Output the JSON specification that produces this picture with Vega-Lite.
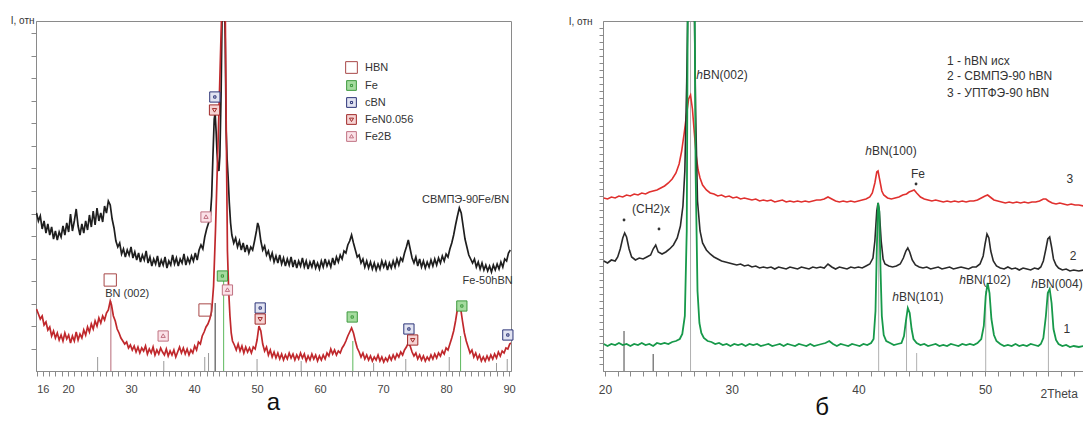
{
"$schema": "https://vega.github.io/schema/vega-lite/v6.json",
"padding": {"left": 9, "top": 14, "right": 0, "bottom": 0},
"bounds": "flush",
"spacing": 92,
"resolve": {"scale": {"color": "independent", "x": "independent", "y": "independent"}},
"config": {
 "font": "Liberation Sans",
 "view": {"stroke": "#8a8a8a", "strokeWidth": 1},
 "axis": {"domainColor": "#8a8a8a", "tickColor": "#8a8a8a", "labelColor": "#444", "labelFontSize": 11, "grid": false, "titleFontWeight": "normal", "titleColor": "#333", "titleFontSize": 10, "labelFlush": false, "labelOverlap": false},
 "text": {"fontSize": 11, "color": "#333"}
},
"datasets": {
"blackA": [{"x":15.0,"y":158},{"x":15.3,"y":150},{"x":15.6,"y":155},{"x":15.9,"y":142},{"x":16.2,"y":150},{"x":16.5,"y":138},{"x":16.8,"y":147},{"x":17.1,"y":136},{"x":17.4,"y":144},{"x":17.7,"y":132},{"x":18.0,"y":140},{"x":18.3,"y":131},{"x":18.6,"y":139},{"x":18.9,"y":134},{"x":19.2,"y":145},{"x":19.5,"y":136},{"x":19.8,"y":148},{"x":20.1,"y":139},{"x":20.4,"y":157},{"x":20.7,"y":140},{"x":21.0,"y":150},{"x":21.3,"y":162},{"x":21.6,"y":145},{"x":21.9,"y":136},{"x":22.2,"y":147},{"x":22.5,"y":138},{"x":22.8,"y":150},{"x":23.1,"y":141},{"x":23.4,"y":156},{"x":23.7,"y":144},{"x":24.0,"y":160},{"x":24.3,"y":146},{"x":24.6,"y":163},{"x":24.9,"y":150},{"x":25.2,"y":158},{"x":25.5,"y":149},{"x":25.8,"y":165},{"x":26.1,"y":158},{"x":26.4,"y":170},{"x":26.7,"y":166},{"x":27.0,"y":152},{"x":27.3,"y":143},{"x":27.6,"y":130},{"x":27.9,"y":124},{"x":28.2,"y":128},{"x":28.5,"y":117},{"x":28.8,"y":122},{"x":29.1,"y":114},{"x":29.4,"y":121},{"x":29.7,"y":116},{"x":30.0,"y":124},{"x":30.3,"y":113},{"x":30.6,"y":119},{"x":30.9,"y":111},{"x":31.2,"y":118},{"x":31.5,"y":109},{"x":31.8,"y":116},{"x":32.1,"y":111},{"x":32.4,"y":120},{"x":32.7,"y":108},{"x":33.0,"y":114},{"x":33.3,"y":105},{"x":33.6,"y":112},{"x":33.9,"y":107},{"x":34.2,"y":115},{"x":34.5,"y":104},{"x":34.8,"y":111},{"x":35.1,"y":106},{"x":35.4,"y":114},{"x":35.7,"y":103},{"x":36.0,"y":110},{"x":36.3,"y":106},{"x":36.6,"y":116},{"x":36.9,"y":107},{"x":37.2,"y":113},{"x":37.5,"y":105},{"x":37.8,"y":112},{"x":38.1,"y":108},{"x":38.4,"y":117},{"x":38.7,"y":106},{"x":39.0,"y":113},{"x":39.3,"y":108},{"x":39.6,"y":115},{"x":39.9,"y":110},{"x":40.2,"y":118},{"x":40.5,"y":111},{"x":40.8,"y":121},{"x":41.1,"y":126},{"x":41.4,"y":122},{"x":41.7,"y":134},{"x":42.0,"y":142},{"x":42.3,"y":148},{"x":42.6,"y":156},{"x":42.8,"y":175},{"x":43.0,"y":215},{"x":43.2,"y":252},{"x":43.35,"y":258},{"x":43.5,"y":240},{"x":43.65,"y":218},{"x":43.8,"y":205},{"x":43.95,"y":200},{"x":44.1,"y":215},{"x":44.3,"y":280},{"x":44.5,"y":380},{"x":44.75,"y":400},{"x":44.95,"y":330},{"x":45.1,"y":240},{"x":45.25,"y":212},{"x":45.4,"y":195},{"x":45.6,"y":168},{"x":45.8,"y":148},{"x":46.0,"y":136},{"x":46.3,"y":128},{"x":46.6,"y":133},{"x":46.9,"y":124},{"x":47.2,"y":130},{"x":47.5,"y":121},{"x":47.8,"y":128},{"x":48.1,"y":119},{"x":48.4,"y":126},{"x":48.7,"y":118},{"x":49.0,"y":124},{"x":49.3,"y":121},{"x":49.6,"y":130},{"x":49.9,"y":140},{"x":50.1,"y":148},{"x":50.3,"y":144},{"x":50.6,"y":130},{"x":50.9,"y":121},{"x":51.2,"y":125},{"x":51.5,"y":116},{"x":51.8,"y":120},{"x":52.1,"y":112},{"x":52.4,"y":118},{"x":52.7,"y":109},{"x":53.0,"y":115},{"x":53.3,"y":108},{"x":53.6,"y":116},{"x":53.9,"y":107},{"x":54.2,"y":113},{"x":54.5,"y":105},{"x":54.8,"y":112},{"x":55.1,"y":106},{"x":55.4,"y":114},{"x":55.7,"y":104},{"x":56.0,"y":111},{"x":56.3,"y":103},{"x":56.6,"y":110},{"x":56.9,"y":105},{"x":57.2,"y":113},{"x":57.5,"y":104},{"x":57.8,"y":110},{"x":58.1,"y":102},{"x":58.4,"y":109},{"x":58.7,"y":104},{"x":59.0,"y":111},{"x":59.3,"y":103},{"x":59.6,"y":108},{"x":59.9,"y":102},{"x":60.2,"y":110},{"x":60.5,"y":104},{"x":60.8,"y":112},{"x":61.1,"y":105},{"x":61.4,"y":110},{"x":61.7,"y":104},{"x":62.0,"y":113},{"x":62.3,"y":106},{"x":62.6,"y":114},{"x":62.9,"y":109},{"x":63.2,"y":116},{"x":63.5,"y":112},{"x":63.8,"y":120},{"x":64.1,"y":118},{"x":64.4,"y":126},{"x":64.7,"y":130},{"x":65.0,"y":136},{"x":65.3,"y":128},{"x":65.6,"y":121},{"x":65.9,"y":114},{"x":66.2,"y":116},{"x":66.5,"y":108},{"x":66.8,"y":112},{"x":67.1,"y":104},{"x":67.4,"y":110},{"x":67.7,"y":103},{"x":68.0,"y":109},{"x":68.3,"y":102},{"x":68.6,"y":108},{"x":68.9,"y":101},{"x":69.2,"y":107},{"x":69.5,"y":102},{"x":69.8,"y":110},{"x":70.1,"y":104},{"x":70.4,"y":109},{"x":70.7,"y":101},{"x":71.0,"y":108},{"x":71.3,"y":103},{"x":71.6,"y":110},{"x":71.9,"y":104},{"x":72.2,"y":112},{"x":72.5,"y":106},{"x":72.8,"y":113},{"x":73.1,"y":110},{"x":73.4,"y":118},{"x":73.7,"y":124},{"x":74.0,"y":131},{"x":74.3,"y":122},{"x":74.6,"y":113},{"x":74.9,"y":108},{"x":75.2,"y":114},{"x":75.5,"y":105},{"x":75.8,"y":112},{"x":76.1,"y":104},{"x":76.4,"y":110},{"x":76.7,"y":103},{"x":77.0,"y":109},{"x":77.3,"y":104},{"x":77.6,"y":111},{"x":77.9,"y":105},{"x":78.2,"y":112},{"x":78.5,"y":106},{"x":78.8,"y":113},{"x":79.1,"y":108},{"x":79.4,"y":115},{"x":79.7,"y":110},{"x":80.0,"y":117},{"x":80.3,"y":114},{"x":80.6,"y":122},{"x":80.9,"y":128},{"x":81.2,"y":136},{"x":81.5,"y":146},{"x":81.8,"y":155},{"x":82.1,"y":163},{"x":82.4,"y":158},{"x":82.7,"y":145},{"x":83.0,"y":132},{"x":83.3,"y":124},{"x":83.6,"y":116},{"x":83.9,"y":112},{"x":84.2,"y":108},{"x":84.5,"y":112},{"x":84.8,"y":104},{"x":85.1,"y":109},{"x":85.4,"y":102},{"x":85.7,"y":108},{"x":86.0,"y":101},{"x":86.3,"y":106},{"x":86.6,"y":100},{"x":86.9,"y":105},{"x":87.2,"y":99},{"x":87.5,"y":106},{"x":87.8,"y":101},{"x":88.1,"y":107},{"x":88.4,"y":102},{"x":88.7,"y":109},{"x":89.0,"y":104},{"x":89.3,"y":112},{"x":89.6,"y":110},{"x":89.9,"y":118},{"x":90.2,"y":121}],
"redA": [{"x":15.0,"y":62},{"x":15.3,"y":57},{"x":15.6,"y":52},{"x":15.9,"y":55},{"x":16.2,"y":46},{"x":16.5,"y":49},{"x":16.8,"y":41},{"x":17.1,"y":44},{"x":17.4,"y":35},{"x":17.7,"y":40},{"x":18.0,"y":33},{"x":18.3,"y":38},{"x":18.6,"y":31},{"x":18.9,"y":36},{"x":19.2,"y":30},{"x":19.5,"y":38},{"x":19.8,"y":32},{"x":20.1,"y":36},{"x":20.4,"y":28},{"x":20.7,"y":35},{"x":21.0,"y":30},{"x":21.3,"y":39},{"x":21.6,"y":31},{"x":21.9,"y":37},{"x":22.2,"y":33},{"x":22.5,"y":41},{"x":22.8,"y":36},{"x":23.1,"y":44},{"x":23.4,"y":39},{"x":23.7,"y":47},{"x":24.0,"y":42},{"x":24.3,"y":50},{"x":24.6,"y":45},{"x":24.9,"y":53},{"x":25.2,"y":48},{"x":25.5,"y":55},{"x":25.8,"y":51},{"x":26.1,"y":58},{"x":26.4,"y":61},{"x":26.7,"y":70},{"x":26.9,"y":66},{"x":27.2,"y":55},{"x":27.5,"y":50},{"x":27.8,"y":42},{"x":28.1,"y":38},{"x":28.4,"y":33},{"x":28.7,"y":30},{"x":29.0,"y":27},{"x":29.3,"y":29},{"x":29.6,"y":23},{"x":29.9,"y":26},{"x":30.2,"y":21},{"x":30.5,"y":25},{"x":30.8,"y":19},{"x":31.1,"y":24},{"x":31.4,"y":18},{"x":31.7,"y":23},{"x":32.0,"y":20},{"x":32.3,"y":25},{"x":32.6,"y":17},{"x":32.9,"y":22},{"x":33.2,"y":18},{"x":33.5,"y":24},{"x":33.8,"y":16},{"x":34.1,"y":21},{"x":34.4,"y":17},{"x":34.7,"y":23},{"x":35.0,"y":19},{"x":35.3,"y":16},{"x":35.6,"y":22},{"x":35.9,"y":15},{"x":36.2,"y":20},{"x":36.5,"y":16},{"x":36.8,"y":21},{"x":37.1,"y":14},{"x":37.4,"y":19},{"x":37.7,"y":24},{"x":38.0,"y":18},{"x":38.3,"y":23},{"x":38.6,"y":17},{"x":38.9,"y":22},{"x":39.2,"y":16},{"x":39.5,"y":21},{"x":39.8,"y":18},{"x":40.1,"y":25},{"x":40.4,"y":21},{"x":40.7,"y":29},{"x":41.0,"y":27},{"x":41.3,"y":35},{"x":41.6,"y":39},{"x":41.9,"y":44},{"x":42.2,"y":47},{"x":42.5,"y":52},{"x":42.8,"y":60},{"x":43.1,"y":85},{"x":43.4,"y":140},{"x":43.7,"y":205},{"x":44.0,"y":270},{"x":44.3,"y":340},{"x":44.6,"y":400},{"x":44.9,"y":400},{"x":45.1,"y":250},{"x":45.3,"y":120},{"x":45.5,"y":80},{"x":45.7,"y":55},{"x":45.9,"y":38},{"x":46.1,"y":30},{"x":46.4,"y":26},{"x":46.7,"y":21},{"x":47.0,"y":27},{"x":47.3,"y":20},{"x":47.6,"y":25},{"x":47.9,"y":18},{"x":48.2,"y":24},{"x":48.5,"y":19},{"x":48.8,"y":23},{"x":49.1,"y":18},{"x":49.4,"y":24},{"x":49.7,"y":22},{"x":50.0,"y":31},{"x":50.3,"y":45},{"x":50.6,"y":40},{"x":50.9,"y":27},{"x":51.2,"y":20},{"x":51.5,"y":24},{"x":51.8,"y":16},{"x":52.1,"y":21},{"x":52.4,"y":14},{"x":52.7,"y":19},{"x":53.0,"y":13},{"x":53.3,"y":18},{"x":53.6,"y":12},{"x":53.9,"y":17},{"x":54.2,"y":11},{"x":54.5,"y":16},{"x":54.8,"y":12},{"x":55.1,"y":18},{"x":55.4,"y":13},{"x":55.7,"y":17},{"x":56.0,"y":11},{"x":56.3,"y":16},{"x":56.6,"y":12},{"x":56.9,"y":18},{"x":57.2,"y":13},{"x":57.5,"y":17},{"x":57.8,"y":10},{"x":58.1,"y":15},{"x":58.4,"y":11},{"x":58.7,"y":17},{"x":59.0,"y":12},{"x":59.3,"y":16},{"x":59.6,"y":10},{"x":59.9,"y":15},{"x":60.2,"y":11},{"x":60.5,"y":16},{"x":60.8,"y":12},{"x":61.1,"y":18},{"x":61.4,"y":15},{"x":61.7,"y":22},{"x":62.0,"y":17},{"x":62.3,"y":21},{"x":62.6,"y":16},{"x":62.9,"y":20},{"x":63.2,"y":18},{"x":63.5,"y":23},{"x":63.8,"y":26},{"x":64.1,"y":30},{"x":64.4,"y":35},{"x":64.7,"y":39},{"x":65.0,"y":43},{"x":65.3,"y":38},{"x":65.6,"y":30},{"x":65.9,"y":23},{"x":66.2,"y":19},{"x":66.5,"y":14},{"x":66.8,"y":18},{"x":67.1,"y":12},{"x":67.4,"y":16},{"x":67.7,"y":11},{"x":68.0,"y":15},{"x":68.3,"y":10},{"x":68.6,"y":14},{"x":68.9,"y":11},{"x":69.2,"y":16},{"x":69.5,"y":10},{"x":69.8,"y":14},{"x":70.1,"y":9},{"x":70.4,"y":13},{"x":70.7,"y":10},{"x":71.0,"y":15},{"x":71.3,"y":11},{"x":71.6,"y":16},{"x":71.9,"y":12},{"x":72.2,"y":17},{"x":72.5,"y":14},{"x":72.8,"y":19},{"x":73.1,"y":16},{"x":73.4,"y":21},{"x":73.7,"y":24},{"x":74.0,"y":28},{"x":74.3,"y":25},{"x":74.6,"y":19},{"x":74.9,"y":15},{"x":75.2,"y":18},{"x":75.5,"y":12},{"x":75.8,"y":16},{"x":76.1,"y":11},{"x":76.4,"y":15},{"x":76.7,"y":10},{"x":77.0,"y":14},{"x":77.3,"y":11},{"x":77.6,"y":16},{"x":77.9,"y":12},{"x":78.2,"y":17},{"x":78.5,"y":13},{"x":78.8,"y":18},{"x":79.1,"y":15},{"x":79.4,"y":20},{"x":79.7,"y":17},{"x":80.0,"y":23},{"x":80.3,"y":21},{"x":80.6,"y":27},{"x":80.9,"y":33},{"x":81.2,"y":40},{"x":81.5,"y":50},{"x":81.8,"y":62},{"x":82.1,"y":66},{"x":82.3,"y":63},{"x":82.6,"y":50},{"x":82.9,"y":38},{"x":83.2,"y":30},{"x":83.5,"y":24},{"x":83.8,"y":18},{"x":84.1,"y":21},{"x":84.4,"y":14},{"x":84.7,"y":18},{"x":85.0,"y":12},{"x":85.3,"y":16},{"x":85.6,"y":10},{"x":85.9,"y":14},{"x":86.2,"y":10},{"x":86.5,"y":15},{"x":86.8,"y":11},{"x":87.1,"y":16},{"x":87.4,"y":12},{"x":87.7,"y":17},{"x":88.0,"y":13},{"x":88.3,"y":19},{"x":88.6,"y":15},{"x":88.9,"y":20},{"x":89.2,"y":18},{"x":89.5,"y":23},{"x":89.8,"y":22},{"x":90.1,"y":27},{"x":90.3,"y":28}],
"sticksA": [{"x":26.8,"y":70,"p":"HBN"},{"x":43.35,"y":68,"p":"cBN"},{"x":44.7,"y":92,"p":"Fe"},{"x":65.2,"y":30,"p":"Fe"},{"x":82.3,"y":35,"p":"Fe"},{"x":24.7,"y":14,"p":"minor"},{"x":35.2,"y":10,"p":"minor"},{"x":41.7,"y":14,"p":"minor"},{"x":42.3,"y":18,"p":"minor"},{"x":50.0,"y":12,"p":"minor"},{"x":57.0,"y":10,"p":"minor"},{"x":68.5,"y":8,"p":"minor"},{"x":73.6,"y":12,"p":"minor"},{"x":80.5,"y":14,"p":"minor"},{"x":88.0,"y":8,"p":"minor"},{"x":89.7,"y":12,"p":"minor"}],
"markersA": [{"x":26.7,"y":91,"kind":"HBN"},{"x":41.75,"y":61,"kind":"HBN"},{"x":35.1,"y":35,"kind":"Fe2B"},{"x":41.9,"y":154,"kind":"Fe2B"},{"x":45.3,"y":81,"kind":"Fe2B"},{"x":43.3,"y":274,"kind":"cBN"},{"x":43.25,"y":261,"kind":"FeN0.056"},{"x":44.5,"y":95,"kind":"Fe"},{"x":50.5,"y":63,"kind":"cBN"},{"x":50.5,"y":52,"kind":"FeN0.056"},{"x":65.1,"y":54,"kind":"Fe"},{"x":74.1,"y":42,"kind":"cBN"},{"x":74.7,"y":31,"kind":"FeN0.056"},{"x":82.5,"y":65,"kind":"Fe"},{"x":89.8,"y":36,"kind":"cBN"}],
"textA": [{"x":29.4,"y":77,"label":"BN (002)"},{"x":83.1,"y":171,"label":"СВМПЭ-90Fe/BN"},{"x":86.6,"y":90,"label":"Fe-50hBN"}],
"greenB": [{"x":19.9,"y":27},{"x":20.2,"y":25},{"x":20.5,"y":27},{"x":20.8,"y":26},{"x":21.1,"y":28},{"x":21.4,"y":26},{"x":21.7,"y":27},{"x":22.0,"y":25},{"x":22.3,"y":27},{"x":22.6,"y":26},{"x":22.9,"y":28},{"x":23.2,"y":26},{"x":23.5,"y":27},{"x":23.8,"y":25},{"x":24.1,"y":28},{"x":24.4,"y":27},{"x":24.7,"y":28},{"x":25.0,"y":27},{"x":25.3,"y":29},{"x":25.6,"y":30},{"x":25.9,"y":32},{"x":26.1,"y":37},{"x":26.3,"y":55},{"x":26.45,"y":140},{"x":26.55,"y":420},{"x":27.05,"y":420},{"x":27.15,"y":200},{"x":27.3,"y":80},{"x":27.45,"y":48},{"x":27.6,"y":38},{"x":27.8,"y":33},{"x":28.1,"y":30},{"x":28.4,"y":29},{"x":28.7,"y":27},{"x":29.0,"y":28},{"x":29.3,"y":26},{"x":29.6,"y":27},{"x":29.9,"y":25},{"x":30.2,"y":27},{"x":30.5,"y":26},{"x":30.8,"y":27},{"x":31.1,"y":25},{"x":31.4,"y":27},{"x":31.7,"y":26},{"x":32.0,"y":27},{"x":32.3,"y":25},{"x":32.6,"y":26},{"x":32.9,"y":27},{"x":33.2,"y":25},{"x":33.5,"y":26},{"x":33.8,"y":27},{"x":34.1,"y":25},{"x":34.4,"y":27},{"x":34.7,"y":26},{"x":35.0,"y":25},{"x":35.3,"y":27},{"x":35.6,"y":26},{"x":35.9,"y":25},{"x":36.2,"y":27},{"x":36.5,"y":25},{"x":36.8,"y":26},{"x":37.1,"y":27},{"x":37.4,"y":28},{"x":37.7,"y":30},{"x":38.0,"y":27},{"x":38.3,"y":25},{"x":38.6,"y":27},{"x":38.9,"y":26},{"x":39.2,"y":25},{"x":39.5,"y":27},{"x":39.8,"y":26},{"x":40.1,"y":25},{"x":40.4,"y":27},{"x":40.7,"y":26},{"x":41.0,"y":28},{"x":41.2,"y":32},{"x":41.35,"y":60},{"x":41.45,"y":120},{"x":41.55,"y":168},{"x":41.65,"y":160},{"x":41.75,"y":100},{"x":41.85,"y":55},{"x":42.0,"y":36},{"x":42.2,"y":30},{"x":42.5,"y":28},{"x":42.8,"y":26},{"x":43.1,"y":27},{"x":43.4,"y":28},{"x":43.6,"y":35},{"x":43.75,"y":50},{"x":43.9,"y":63},{"x":44.05,"y":58},{"x":44.2,"y":42},{"x":44.35,"y":32},{"x":44.6,"y":28},{"x":44.9,"y":26},{"x":45.2,"y":27},{"x":45.5,"y":25},{"x":45.8,"y":26},{"x":46.1,"y":27},{"x":46.4,"y":25},{"x":46.7,"y":26},{"x":47.0,"y":25},{"x":47.3,"y":27},{"x":47.6,"y":26},{"x":47.9,"y":25},{"x":48.2,"y":27},{"x":48.5,"y":26},{"x":48.8,"y":27},{"x":49.1,"y":26},{"x":49.4,"y":28},{"x":49.7,"y":32},{"x":49.9,"y":45},{"x":50.05,"y":75},{"x":50.2,"y":88},{"x":50.35,"y":78},{"x":50.5,"y":52},{"x":50.7,"y":36},{"x":50.9,"y":30},{"x":51.2,"y":27},{"x":51.5,"y":25},{"x":51.8,"y":26},{"x":52.1,"y":25},{"x":52.4,"y":27},{"x":52.7,"y":25},{"x":53.0,"y":26},{"x":53.3,"y":25},{"x":53.6,"y":27},{"x":53.9,"y":26},{"x":54.2,"y":25},{"x":54.4,"y":27},{"x":54.6,"y":33},{"x":54.8,"y":55},{"x":54.95,"y":78},{"x":55.1,"y":82},{"x":55.25,"y":68},{"x":55.4,"y":42},{"x":55.6,"y":31},{"x":55.8,"y":27},{"x":56.1,"y":25},{"x":56.4,"y":26},{"x":56.7,"y":24},{"x":57.0,"y":25},{"x":57.4,"y":24},{"x":57.8,"y":25}],
"blackB": [{"x":19.9,"y":110},{"x":20.2,"y":108},{"x":20.5,"y":111},{"x":20.8,"y":110},{"x":21.0,"y":114},{"x":21.2,"y":122},{"x":21.4,"y":133},{"x":21.55,"y":138},{"x":21.7,"y":134},{"x":21.9,"y":122},{"x":22.1,"y":114},{"x":22.4,"y":111},{"x":22.7,"y":113},{"x":23.0,"y":112},{"x":23.3,"y":114},{"x":23.6,"y":116},{"x":23.8,"y":122},{"x":24.0,"y":126},{"x":24.2,"y":119},{"x":24.5,"y":117},{"x":24.8,"y":119},{"x":25.1,"y":122},{"x":25.4,"y":126},{"x":25.7,"y":133},{"x":25.95,"y":145},{"x":26.15,"y":165},{"x":26.3,"y":200},{"x":26.45,"y":290},{"x":26.6,"y":420},{"x":27.0,"y":420},{"x":27.15,"y":260},{"x":27.3,"y":170},{"x":27.5,"y":140},{"x":27.7,"y":128},{"x":28.0,"y":121},{"x":28.3,"y":117},{"x":28.6,"y":114},{"x":28.9,"y":112},{"x":29.2,"y":110},{"x":29.5,"y":109},{"x":29.8,"y":108},{"x":30.1,"y":107},{"x":30.4,"y":106},{"x":30.7,"y":107},{"x":31.0,"y":105},{"x":31.3,"y":106},{"x":31.6,"y":104},{"x":31.9,"y":105},{"x":32.2,"y":103},{"x":32.5,"y":104},{"x":32.8,"y":103},{"x":33.1,"y":104},{"x":33.4,"y":102},{"x":33.7,"y":104},{"x":34.0,"y":103},{"x":34.3,"y":102},{"x":34.6,"y":104},{"x":34.9,"y":103},{"x":35.2,"y":102},{"x":35.5,"y":104},{"x":35.8,"y":103},{"x":36.1,"y":102},{"x":36.4,"y":104},{"x":36.7,"y":103},{"x":37.0,"y":104},{"x":37.3,"y":103},{"x":37.6,"y":107},{"x":37.9,"y":104},{"x":38.2,"y":102},{"x":38.5,"y":104},{"x":38.8,"y":103},{"x":39.1,"y":102},{"x":39.4,"y":104},{"x":39.7,"y":103},{"x":40.0,"y":104},{"x":40.3,"y":103},{"x":40.6,"y":105},{"x":40.9,"y":107},{"x":41.15,"y":113},{"x":41.3,"y":130},{"x":41.45,"y":160},{"x":41.55,"y":168},{"x":41.65,"y":160},{"x":41.8,"y":130},{"x":41.95,"y":112},{"x":42.1,"y":107},{"x":42.4,"y":105},{"x":42.7,"y":104},{"x":43.0,"y":105},{"x":43.3,"y":107},{"x":43.55,"y":113},{"x":43.75,"y":120},{"x":43.9,"y":123},{"x":44.05,"y":119},{"x":44.25,"y":111},{"x":44.5,"y":106},{"x":44.8,"y":104},{"x":45.1,"y":103},{"x":45.4,"y":104},{"x":45.7,"y":102},{"x":46.0,"y":103},{"x":46.3,"y":104},{"x":46.6,"y":102},{"x":46.9,"y":103},{"x":47.2,"y":104},{"x":47.5,"y":102},{"x":47.8,"y":103},{"x":48.1,"y":104},{"x":48.4,"y":103},{"x":48.7,"y":102},{"x":49.0,"y":104},{"x":49.3,"y":104},{"x":49.6,"y":107},{"x":49.85,"y":115},{"x":50.0,"y":127},{"x":50.15,"y":137},{"x":50.3,"y":133},{"x":50.45,"y":120},{"x":50.65,"y":110},{"x":50.9,"y":105},{"x":51.2,"y":103},{"x":51.5,"y":102},{"x":51.8,"y":104},{"x":52.1,"y":102},{"x":52.4,"y":103},{"x":52.7,"y":101},{"x":53.0,"y":103},{"x":53.3,"y":102},{"x":53.6,"y":101},{"x":53.9,"y":103},{"x":54.2,"y":102},{"x":54.4,"y":104},{"x":54.6,"y":110},{"x":54.8,"y":122},{"x":54.95,"y":132},{"x":55.1,"y":134},{"x":55.25,"y":124},{"x":55.4,"y":112},{"x":55.6,"y":106},{"x":55.8,"y":103},{"x":56.1,"y":101},{"x":56.4,"y":102},{"x":56.7,"y":100},{"x":57.0,"y":101},{"x":57.4,"y":100},{"x":57.8,"y":101}],
"redB": [{"x":19.9,"y":173},{"x":20.2,"y":172},{"x":20.5,"y":174},{"x":20.8,"y":173},{"x":21.1,"y":175},{"x":21.4,"y":174},{"x":21.7,"y":176},{"x":22.0,"y":175},{"x":22.3,"y":177},{"x":22.6,"y":176},{"x":22.9,"y":178},{"x":23.2,"y":177},{"x":23.5,"y":179},{"x":23.8,"y":180},{"x":24.1,"y":181},{"x":24.4,"y":183},{"x":24.7,"y":185},{"x":25.0,"y":188},{"x":25.3,"y":192},{"x":25.6,"y":198},{"x":25.85,"y":207},{"x":26.05,"y":220},{"x":26.25,"y":238},{"x":26.45,"y":258},{"x":26.6,"y":272},{"x":26.75,"y":276},{"x":26.9,"y":262},{"x":27.05,"y":238},{"x":27.2,"y":215},{"x":27.35,"y":201},{"x":27.5,"y":193},{"x":27.7,"y":186},{"x":28.0,"y":181},{"x":28.3,"y":178},{"x":28.6,"y":177},{"x":28.9,"y":175},{"x":29.2,"y":176},{"x":29.5,"y":174},{"x":29.8,"y":175},{"x":30.1,"y":173},{"x":30.4,"y":174},{"x":30.7,"y":172},{"x":31.0,"y":173},{"x":31.3,"y":172},{"x":31.6,"y":171},{"x":31.9,"y":172},{"x":32.2,"y":170},{"x":32.5,"y":171},{"x":32.8,"y":170},{"x":33.1,"y":171},{"x":33.4,"y":169},{"x":33.7,"y":170},{"x":34.0,"y":171},{"x":34.3,"y":169},{"x":34.6,"y":170},{"x":34.9,"y":169},{"x":35.2,"y":170},{"x":35.5,"y":169},{"x":35.8,"y":170},{"x":36.1,"y":169},{"x":36.4,"y":170},{"x":36.7,"y":171},{"x":37.0,"y":171},{"x":37.3,"y":172},{"x":37.6,"y":174},{"x":37.9,"y":172},{"x":38.2,"y":170},{"x":38.5,"y":169},{"x":38.8,"y":170},{"x":39.1,"y":169},{"x":39.4,"y":170},{"x":39.7,"y":169},{"x":40.0,"y":170},{"x":40.3,"y":171},{"x":40.6,"y":172},{"x":40.9,"y":174},{"x":41.1,"y":178},{"x":41.3,"y":188},{"x":41.45,"y":199},{"x":41.55,"y":200},{"x":41.7,"y":190},{"x":41.85,"y":180},{"x":42.0,"y":176},{"x":42.3,"y":173},{"x":42.6,"y":172},{"x":42.9,"y":173},{"x":43.2,"y":174},{"x":43.5,"y":176},{"x":43.8,"y":177},{"x":44.0,"y":179},{"x":44.2,"y":180},{"x":44.4,"y":181},{"x":44.6,"y":178},{"x":44.9,"y":174},{"x":45.2,"y":172},{"x":45.5,"y":171},{"x":45.8,"y":170},{"x":46.1,"y":171},{"x":46.4,"y":170},{"x":46.7,"y":169},{"x":47.0,"y":170},{"x":47.3,"y":169},{"x":47.6,"y":170},{"x":47.9,"y":169},{"x":48.2,"y":170},{"x":48.5,"y":169},{"x":48.8,"y":170},{"x":49.1,"y":170},{"x":49.4,"y":171},{"x":49.7,"y":173},{"x":50.0,"y":175},{"x":50.2,"y":176},{"x":50.4,"y":174},{"x":50.7,"y":171},{"x":51.0,"y":170},{"x":51.3,"y":169},{"x":51.6,"y":168},{"x":51.9,"y":169},{"x":52.2,"y":168},{"x":52.5,"y":169},{"x":52.8,"y":168},{"x":53.1,"y":169},{"x":53.4,"y":168},{"x":53.7,"y":169},{"x":54.0,"y":169},{"x":54.3,"y":170},{"x":54.6,"y":172},{"x":54.8,"y":172},{"x":55.0,"y":170},{"x":55.3,"y":168},{"x":55.6,"y":167},{"x":55.9,"y":168},{"x":56.2,"y":167},{"x":56.5,"y":166},{"x":56.8,"y":167},{"x":57.1,"y":166},{"x":57.4,"y":166},{"x":57.8,"y":165}],
"sticksB": [{"x":26.75,"y":349,"p":"hBN"},{"x":41.6,"y":168,"p":"hBN"},{"x":43.8,"y":53,"p":"hBN"},{"x":44.6,"y":18,"p":"hBN"},{"x":50.05,"y":80,"p":"hBN"},{"x":55.0,"y":80,"p":"hBN"},{"x":21.5,"y":40,"p":"CH2"},{"x":23.8,"y":17,"p":"CH2"}],
"hbnB": [{"x":27.73,"y":296,"rest":"BN(002)"},{"x":41.07,"y":220,"rest":"BN(100)"},{"x":43.2,"y":74,"rest":"BN(101)"},{"x":48.49,"y":91,"rest":"BN(102)"},{"x":54.18,"y":87,"rest":"BN(004)"}],
"textB": [{"x":44.7,"y":197,"label":"Fe"},{"x":23.63,"y":162,"label":"(CH2)x"},{"x":56.46,"y":42,"label":"1"},{"x":56.94,"y":115,"label":"2"},{"x":56.7,"y":192,"label":"3"}],
"legendB": [{"x":46.99,"y":310,"label":"1 - hBN исх"},{"x":46.99,"y":295,"label":"2 - СВМПЭ-90 hBN"},{"x":46.99,"y":278,"label":"3 - УПТФЭ-90 hBN"}],
"dotsB": [{"x":21.5,"y":151},{"x":24.26,"y":142},{"x":44.55,"y":187}]
},
"hconcat": [
{
 "width": 475, "height": 350,
 "title": {"text": "а", "orient": "bottom", "fontSize": 24, "fontWeight": "normal", "color": "#111", "offset": -3},
 "encoding": {
  "x": {"field": "x", "type": "quantitative", "scale": {"domain": [14.92, 90.3], "nice": false, "zero": false},
   "axis": {"title": null, "values": [15,16,17,18,19,20,21,22,23,24,25,26,27,28,29,30,31,32,33,34,35,36,37,38,39,40,41,42,43,44,45,46,47,48,49,50,51,52,53,54,55,56,57,58,59,60,61,62,63,64,65,66,67,68,69,70,71,72,73,74,75,76,77,78,79,80,81,82,83,84,85,86,87,88,89,90],
    "labelExpr": "datum.value == 16 || datum.value % 10 == 0 ? datum.label : ''", "tickSize": 5, "labelPadding": 7}},
  "y": {"field": "y", "type": "quantitative", "scale": {"domain": [0, 350], "nice": false, "zero": false},
   "axis": {"labels": false, "values": [22.5,45,67.5,90,112.5,135,157.5,180,202.5,225,247.5,270,292.5,315,337.5], "tickSize": 5,
    "title": "I, отн", "titleAngle": 0, "titleAlign": "right", "titleBaseline": "middle", "titleX": -2, "titleY": -1}}
 },
 "layer": [
  {"data": {"name": "sticksA"}, "mark": {"type": "rule", "strokeWidth": 1},
   "encoding": {"y2": {"datum": 0}, "color": {"field": "p", "type": "nominal", "legend": null,
     "scale": {"domain": ["HBN","cBN","Fe","minor"], "range": ["#b86a78","#333333","#5cb85c","#9a9a9a"]}}}},
  {"data": {"name": "blackA"}, "mark": {"type": "line", "clip": true, "color": "#1e1e1e", "strokeWidth": 1.7}},
  {"data": {"name": "redA"}, "mark": {"type": "line", "clip": true, "color": "#c0282c", "strokeWidth": 1.7}},
  {"data": {"name": "markersA"}, "mark": {"type": "point", "filled": true, "size": 105, "strokeWidth": 1, "opacity": 1},
   "encoding": {
    "shape": {"field": "kind", "type": "nominal", "scale": {"domain": ["HBN","Fe","cBN","FeN0.056","Fe2B"], "range": ["M-1.2,-1.2H1.2V1.2H-1.2Z", "M-1,-1H1V1H-1Z M-0.22,-0.22H0.22V0.22H-0.22Z", "M-1,-1H1V1H-1Z M-0.22,-0.22H0.22V0.22H-0.22Z", "M-1,-1H1V1H-1Z M-0.42,-0.28H0.42L0,0.42Z", "M-1,-1H1V1H-1Z M0,-0.42L0.42,0.28H-0.42Z"]},
      "legend": {"title": null, "orient": "none", "legendX": 310, "legendY": 41, "labelFontSize": 11, "labelColor": "#333", "rowPadding": 2, "labelOffset": 8, "symbolSize": 95, "symbolStrokeWidth": 1}},
    "fill": {"field": "kind", "type": "nominal", "scale": {"domain": ["HBN","Fe","cBN","FeN0.056","Fe2B"], "range": ["transparent","#a6dca0","#e2e4f2","#f6d4d4","#fbe2e8"]},
      "legend": {"title": null, "orient": "none", "legendX": 310, "legendY": 41, "labelFontSize": 11, "labelColor": "#333", "rowPadding": 2, "labelOffset": 8, "symbolSize": 95, "symbolStrokeWidth": 1}},
    "stroke": {"field": "kind", "type": "nominal", "scale": {"domain": ["HBN","Fe","cBN","FeN0.056","Fe2B"], "range": ["#a84848","#3e9a3e","#2c3478","#a02a2a","#c07282"]},
      "legend": {"title": null, "orient": "none", "legendX": 310, "legendY": 41, "labelFontSize": 11, "labelColor": "#333", "rowPadding": 2, "labelOffset": 8, "symbolSize": 95, "symbolStrokeWidth": 1}}
   }},
  {"data": {"name": "textA"}, "mark": {"type": "text", "align": "center", "baseline": "middle", "fontSize": 11},
   "encoding": {"text": {"field": "label", "type": "nominal"}}}
 ]
},
{
 "width": 480, "height": 350,
 "title": {"text": "б", "orient": "bottom", "fontSize": 24, "fontWeight": "normal", "color": "#111", "offset": -3, "dx": -21},
 "encoding": {
  "x": {"field": "x", "type": "quantitative", "scale": {"domain": [19.84, 57.73], "nice": false, "zero": false},
   "axis": {"values": [20,21,22,23,24,25,26,27,28,29,30,31,32,33,34,35,36,37,38,39,40,41,42,43,44,45,46,47,48,49,50,51,52,53,54,55,56,57],
    "labelExpr": "datum.value % 10 == 0 ? datum.label : ''", "tickSize": 5, "labelPadding": 8, "labelFontSize": 12,
    "title": "2Theta", "titleX": 437, "titleY": 22, "titleAlign": "left", "titleBaseline": "middle", "titleFontSize": 12, "titleColor": "#444"}},
  "y": {"field": "y", "type": "quantitative", "scale": {"domain": [0, 350], "nice": false, "zero": false},
   "axis": {"labels": false, "values": [7,14,21,28,35,42,49,56,63,70,77,84,91,98,105,112,119,126,133,140,147,154,161,168,175,182,189,196,203,210,217,224,231,238,245,252,259,266,273,280,287,294,301,308,315,322,329,336,343], "tickSize": 4,
    "title": "I, отн", "titleAngle": 0, "titleAlign": "right", "titleBaseline": "middle", "titleX": -11, "titleY": 0}}
 },
 "layer": [
  {"data": {"name": "sticksB"}, "mark": {"type": "rule", "strokeWidth": 1, "clip": true},
   "encoding": {"y2": {"datum": 0}, "color": {"field": "p", "type": "nominal", "legend": null,
     "scale": {"domain": ["hBN","CH2"], "range": ["#b0b0b0","#444444"]}}}},
  {"data": {"name": "redB"}, "mark": {"type": "line", "clip": true, "color": "#e0302e", "strokeWidth": 1.6}},
  {"data": {"name": "blackB"}, "mark": {"type": "line", "clip": true, "color": "#2a2a2a", "strokeWidth": 1.6}},
  {"data": {"name": "greenB"}, "mark": {"type": "line", "clip": true, "color": "#17994a", "strokeWidth": 1.8}},
  {"data": {"name": "dotsB"}, "mark": {"type": "circle", "size": 8, "color": "#333", "opacity": 1}},
  {"data": {"name": "hbnB"}, "mark": {"type": "text", "align": "right", "baseline": "middle", "fontSize": 12, "fontStyle": "italic"},
   "encoding": {"text": {"value": "h"}}},
  {"data": {"name": "hbnB"}, "mark": {"type": "text", "align": "left", "baseline": "middle", "fontSize": 12},
   "encoding": {"text": {"field": "rest", "type": "nominal"}}},
  {"data": {"name": "textB"}, "mark": {"type": "text", "align": "center", "baseline": "middle", "fontSize": 12},
   "encoding": {"text": {"field": "label", "type": "nominal"}}},
  {"data": {"name": "legendB"}, "mark": {"type": "text", "align": "left", "baseline": "middle", "fontSize": 12},
   "encoding": {"text": {"field": "label", "type": "nominal"}}}
 ]
}
]
}
